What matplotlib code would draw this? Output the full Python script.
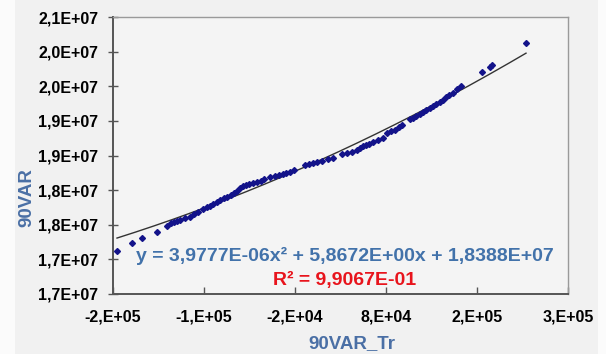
import matplotlib
matplotlib.use("Agg")
from matplotlib import pyplot as plt
import matplotlib.patches as mpatches
import numpy as np

plt.rcParams['font.family'] = ['Liberation Sans', 'DejaVu Sans']

# scatter values (90VAR_Tr vs 90VAR)
var_tr = [-215600, -199120, -188130, -171650, -160660, -156260, -152960, -149670,
          -146370, -140870, -135380, -130990, -126590, -121100, -116700, -113400,
          -110110, -105710, -102420, -98020, -94720, -90330, -87030, -83740,
          -80440, -77140, -73850, -70550, -66150, -61760, -57360, -54070,
          -47470, -41980, -37580, -33190, -29890, -25500, -21100, -9010,
          -4620, -220, 4180, 9670, 16270, 21760, 31650, 37140,
          42640, 48130, 51430, 54730, 58020, 61320, 65710, 71210,
          76700, 81100, 85490, 89890, 94280, 97580, 106370, 109670,
          112960, 117360, 120660, 123950, 128350, 131640, 134940, 139330,
          142630, 145930, 149220, 153620, 158010, 162410, 185490, 194280,
          196480, 233850]
var_90 = [17121400, 17237000, 17309300, 17396000, 17482700, 17526000, 17540500, 17554900,
          17569400, 17598300, 17612700, 17656100, 17685000, 17728300, 17757200, 17771700,
          17800600, 17829500, 17858400, 17887300, 17901700, 17930600, 17959600, 17988500,
          18031800, 18060700, 18075200, 18089600, 18104100, 18118500, 18133000, 18161900,
          18190800, 18205200, 18219700, 18234100, 18248600, 18263000, 18291900, 18364200,
          18378600, 18393100, 18407500, 18422000, 18450900, 18465300, 18523100, 18537600,
          18552000, 18580900, 18609800, 18638700, 18653200, 18667700, 18696600, 18725500,
          18754400, 18826600, 18855500, 18870000, 18913300, 18942200, 19028900, 19043400,
          19072300, 19101200, 19130100, 19159000, 19187900, 19216800, 19245700, 19274600,
          19303500, 19346800, 19375700, 19404700, 19462500, 19505800, 19708100, 19780400,
          19809300, 20127200]

# trendline coefficients (a*x^2 + b*x + c)
coef_a = 3.9777e-06
coef_b = 5.8672
coef_c = 1.8388e07
r_squared = 9.9067e-01

x_ticks = [-220000, -120000, -20000, 80000, 180000, 280000]
x_ticklabels = ['-2,E+05', '-1,E+05', '-2,E+04', '8,E+04', '2,E+05', '3,E+05']
y_ticks = [16500000, 17000000, 17500000, 18000000, 18500000,
           19000000, 19500000, 20000000, 20500000]
y_ticklabels = ['1,7E+07', '1,7E+07', '1,8E+07', '1,8E+07', '1,9E+07',
                '1,9E+07', '2,0E+07', '2,0E+07', '2,1E+07']

W, H = 606, 354
fig = plt.figure(figsize=(W / 100, H / 100), dpi=100)
fig.patch.set_facecolor('#fbfbfb')
# grey chart area behind the plot
fig.patches.append(mpatches.Rectangle((15 / W, 0), 583 / W, 1, transform=fig.transFigure,
                                      facecolor='#f1f1f1', edgecolor='none', zorder=-10))

ax = fig.add_axes([113 / W, 1 - 294 / H, (568 - 113) / W, (294 - 17) / H])
ax.set_facecolor('#f4f4f4')

ax.plot(var_tr, var_90, linestyle='none', marker='D', markersize=3.0,
        color='#13138a', zorder=3)

xs = np.linspace(min(var_tr), max(var_tr), 200)
ax.plot(xs, coef_a * xs ** 2 + coef_b * xs + coef_c, color='#333333', lw=1.0, zorder=2)

ax.set_xlim(x_ticks[0], x_ticks[-1])
ax.set_ylim(y_ticks[0], y_ticks[-1])
ax.set_xticks(x_ticks)
ax.set_xticklabels(x_ticklabels)
ax.set_yticks(y_ticks)
ax.set_yticklabels(y_ticklabels)

for lab in ax.get_xticklabels() + ax.get_yticklabels():
    lab.set_fontweight('bold')
    lab.set_fontsize(11.5)
ax.tick_params(axis='x', direction='in', length=5, width=1, color='#555555', pad=11)
ax.tick_params(axis='y', direction='inout', length=7, width=1, color='#555555', pad=7)

for side in ['left', 'bottom']:
    ax.spines[side].set_color('#555555')
    ax.spines[side].set_linewidth(1.4)
for side in ['top', 'right']:
    ax.spines[side].set_color('#9a9a9a')
    ax.spines[side].set_linewidth(1.0)

fig.text(27 / W, 1 - 198 / H, '90VAR', rotation=90, ha='center', va='center',
         fontsize=13.5, fontweight='bold', color='#4a6fa5')
fig.text(352 / W, 1 - 344 / H, '90VAR_Tr', ha='center', va='center',
         fontsize=13.5, fontweight='bold', color='#4a6fa5')

eq = 'y = {:.4E}x² + {:.4E}x + {:.4E}'.format(coef_a, coef_b, coef_c).replace('.', ',')
eq = eq.replace('E-6', 'E-06')
fig.text(136 / W, 1 - 256 / H, eq, ha='left', va='center',
         fontsize=14, fontweight='bold', color='#4272aa')
fig.text(273 / W, 1 - 280 / H, 'R² = {:.4E}'.format(r_squared).replace('.', ','),
         ha='left', va='center', fontsize=14, fontweight='bold', color='#e8141c')

fig.savefig('out.png', dpi=100, facecolor=fig.get_facecolor())
